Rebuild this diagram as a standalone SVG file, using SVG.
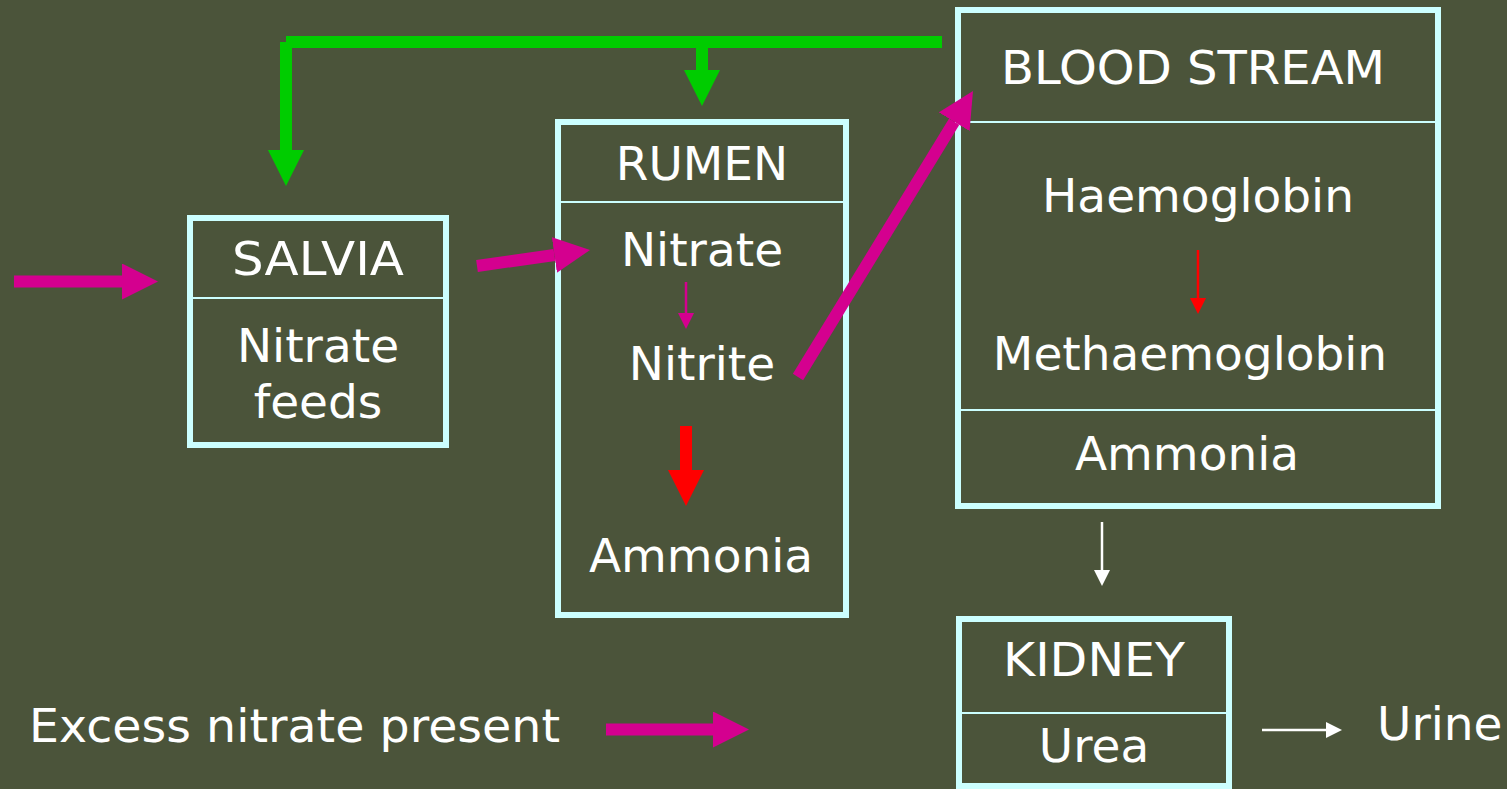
<svg xmlns="http://www.w3.org/2000/svg" width="1507" height="789" viewBox="0 0 1507 789">
<defs>
<style>
.box{fill:none;stroke:#CCFFFF;stroke-width:6}
.div{stroke:#CCFFFF;stroke-width:2}
.t{font-family:"DejaVu Sans","Liberation Sans",sans-serif;font-size:47px;fill:#FFFFFF;text-anchor:middle}
.ts{text-anchor:start}
.mag{stroke:#D4008F;stroke-width:12;fill:none}
.grn{stroke:#00CC00;stroke-width:12;fill:none}
.red{stroke:#FF0000;stroke-width:12;fill:none}
.thinmag{stroke:#D4008F;stroke-width:2.5;fill:none}
.thinred{stroke:#FF0000;stroke-width:2.5;fill:none}
.thinwht{stroke:#FFFFFF;stroke-width:2.5;fill:none}
</style>
<marker id="hMag" markerUnits="userSpaceOnUse" markerWidth="36" markerHeight="36" refX="0" refY="18" orient="auto" viewBox="0 0 36 36"><path d="M0,0 L36,18 L0,36 z" fill="#D4008F"/></marker>
<marker id="hGrn" markerUnits="userSpaceOnUse" markerWidth="36" markerHeight="36" refX="0" refY="18" orient="auto" viewBox="0 0 36 36"><path d="M0,0 L36,18 L0,36 z" fill="#00CC00"/></marker>
<marker id="hRed" markerUnits="userSpaceOnUse" markerWidth="36" markerHeight="36" refX="0" refY="18" orient="auto" viewBox="0 0 36 36"><path d="M0,0 L36,18 L0,36 z" fill="#FF0000"/></marker>
<marker id="sMag" markerUnits="userSpaceOnUse" markerWidth="16" markerHeight="16" refX="0" refY="8" orient="auto" viewBox="0 0 16 16"><path d="M0,0 L16,8 L0,16 z" fill="#D4008F"/></marker>
<marker id="sRed" markerUnits="userSpaceOnUse" markerWidth="16" markerHeight="16" refX="0" refY="8" orient="auto" viewBox="0 0 16 16"><path d="M0,0 L16,8 L0,16 z" fill="#FF0000"/></marker>
<marker id="sWht" markerUnits="userSpaceOnUse" markerWidth="16" markerHeight="16" refX="0" refY="8" orient="auto" viewBox="0 0 16 16"><path d="M0,0 L16,8 L0,16 z" fill="#FFFFFF"/></marker>
</defs>
<rect x="0" y="0" width="1507" height="789" fill="#4B543A"/>

<g id="salvia">
<rect class="box" x="190" y="218" width="256" height="227"/>
<line class="div" x1="193" y1="298" x2="443" y2="298"/>
<text class="t" x="318" y="275" textLength="172" lengthAdjust="spacingAndGlyphs">SALVIA</text>
<text class="t" x="318" y="362">Nitrate</text>
<text class="t" x="318" y="418">feeds</text>
</g>

<g id="rumen">
<rect class="box" x="558" y="122" width="288" height="493"/>
<line class="div" x1="561" y1="202" x2="843" y2="202"/>
<text class="t" x="702" y="180">RUMEN</text>
<text class="t" x="702" y="266">Nitrate</text>
<text class="t" x="702" y="380">Nitrite</text>
<text class="t" x="701" y="572">Ammonia</text>
</g>

<g id="bloodstream">
<rect class="box" x="958" y="10" width="480" height="496"/>
<line class="div" x1="961" y1="122" x2="1435" y2="122"/>
<line class="div" x1="961" y1="410" x2="1435" y2="410"/>
<text class="t" x="1193" y="84" textLength="384" lengthAdjust="spacingAndGlyphs">BLOOD STREAM</text>
<text class="t" x="1198" y="212">Haemoglobin</text>
<text class="t" x="1190" y="370">Methaemoglobin</text>
<text class="t" x="1187" y="470">Ammonia</text>
</g>

<g id="kidney">
<rect class="box" x="959" y="619" width="270" height="167"/>
<line class="div" x1="962" y1="713" x2="1226" y2="713"/>
<text class="t" x="1094" y="676" textLength="182" lengthAdjust="spacingAndGlyphs">KIDNEY</text>
<text class="t" x="1094" y="762">Urea</text>
</g>

<g id="labels">
<text class="t ts" x="1377" y="740">Urine</text>
<text class="t ts" x="29" y="742" textLength="531" lengthAdjust="spacingAndGlyphs">Excess nitrate present</text>
</g>

<g id="connectors">
<line class="grn" x1="286" y1="42" x2="942" y2="42"/>
<line class="grn" x1="286" y1="42" x2="286" y2="150" marker-end="url(#hGrn)"/>
<line class="grn" x1="702" y1="46" x2="702" y2="70" marker-end="url(#hGrn)"/>
<line class="mag" x1="14" y1="281.5" x2="122" y2="281.5" marker-end="url(#hMag)"/>
<line class="mag" x1="477" y1="266" x2="554.4" y2="255" marker-end="url(#hMag)"/>
<line class="mag" x1="798" y1="377" x2="954.2" y2="121.7" marker-end="url(#hMag)"/>
<line class="thinmag" x1="686" y1="282" x2="686" y2="313" marker-end="url(#sMag)"/>
<line class="red" x1="686" y1="426" x2="686" y2="470" marker-end="url(#hRed)"/>
<line class="thinred" x1="1198" y1="250" x2="1198" y2="298" marker-end="url(#sRed)"/>
<line class="thinwht" x1="1102" y1="522" x2="1102" y2="570" marker-end="url(#sWht)"/>
<line class="thinwht" x1="1262" y1="730" x2="1326" y2="730" marker-end="url(#sWht)"/>
<line class="mag" x1="606" y1="729.5" x2="713" y2="729.5" marker-end="url(#hMag)"/>
</g>
</svg>
